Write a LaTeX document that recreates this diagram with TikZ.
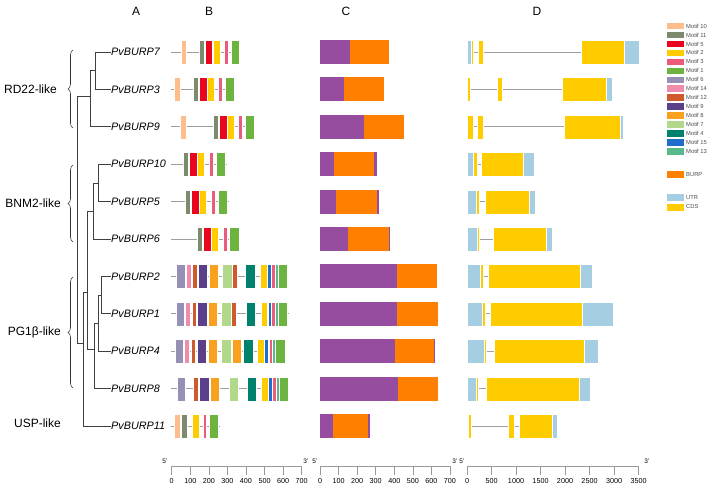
\documentclass[tikz,border=0pt]{standalone}
\usepackage{fontspec}
\setmainfont{Liberation Sans}
\usetikzlibrary{decorations.pathreplacing}

\definecolor{m10}{HTML}{FDBE8C}
\definecolor{m11}{HTML}{7E8A6C}
\definecolor{m5}{HTML}{E8071E}
\definecolor{m2}{HTML}{FFCC00}
\definecolor{m3}{HTML}{EC5B7C}
\definecolor{m1}{HTML}{6CB33F}
\definecolor{m6}{HTML}{968FB6}
\definecolor{m14}{HTML}{F08CAB}
\definecolor{m12}{HTML}{CF5A2E}
\definecolor{m9}{HTML}{5C3F8A}
\definecolor{m8}{HTML}{F9A11E}
\definecolor{m7}{HTML}{B2D98B}
\definecolor{m4}{HTML}{00816D}
\definecolor{m15}{HTML}{1F6ECB}
\definecolor{m13}{HTML}{58BA8B}
\definecolor{burp}{HTML}{FF7F00}
\definecolor{sigp}{HTML}{974D9F}
\definecolor{utr}{HTML}{A6CEE3}
\definecolor{cds}{HTML}{FFCC00}

\begin{document}
\begin{tikzpicture}[
    x=1pt, y=-1pt,
    leaf/.style={font=\fontsize{10.8}{12}\selectfont\itshape, anchor=west, inner sep=0pt},
    clade/.style={font=\fontsize{12}{14}\selectfont, anchor=east, inner sep=0pt},
    panel/.style={font=\fontsize{12}{14}\selectfont, inner sep=0pt},
    branch/.style={line width=0.9pt, draw=black!75},
    brace/.style={decorate, decoration={brace, amplitude=5pt}, line width=0.6pt, draw=black!80},
    intron/.style={draw=gray!75, line width=0.8pt},
    box/.style={draw=white, line width=0.2pt},
    axis/.style={draw=gray!80, line width=0.6pt},
    tick/.style={font=\fontsize{7.2}{8}\selectfont, inner sep=0pt},
    prime/.style={font=\fontsize{6.5}{7}\selectfont, inner sep=0pt},
    legtext/.style={font=\fontsize{5.8}{6}\selectfont, anchor=west, inner sep=0pt, text=black!70}
  ]
  \useasboundingbox (0,0) rectangle (709,484);

  \node[panel] (hA) at (136,11) {A};
  \node[panel] (hB) at (209,11) {B};
  \node[panel] (hC) at (346,11) {C};
  \node[panel] (hD) at (537,11) {D};

  % tree
  \node[leaf] (p7) at (111,52) {PvBURP7};
  \node[leaf] (p3) at (111,89.4) {PvBURP3};
  \node[leaf] (p9) at (111,126.8) {PvBURP9};
  \node[leaf] (p10) at (111,164.2) {PvBURP10};
  \node[leaf] (p5) at (111,201.6) {PvBURP5};
  \node[leaf] (p6) at (111,239) {PvBURP6};
  \node[leaf] (p2) at (111,276.4) {PvBURP2};
  \node[leaf] (p1) at (111,313.8) {PvBURP1};
  \node[leaf] (p4) at (111,351.2) {PvBURP4};
  \node[leaf] (p8) at (111,388.6) {PvBURP8};
  \node[leaf] (p11) at (111,426) {PvBURP11};

  \coordinate (a73) at (95.7,70.7);
  \coordinate (a739) at (90.3,96);
  \coordinate (a105) at (98.3,183);
  \coordinate (a1056) at (93.3,211);
  \coordinate (a21) at (101.7,295);
  \coordinate (a214) at (98.3,323);
  \coordinate (a2148) at (94.3,349);
  \coordinate (abp) at (87.3,292);
  \coordinate (a11) at (83.3,343);
  \coordinate (aroot) at (77.7,220);

  \draw[branch] (a73) |- (p7.west);
  \draw[branch] (a73) |- (p3.west);
  \draw[branch] (a739) |- (a73);
  \draw[branch] (a739) |- (p9.west);
  \draw[branch] (a105) |- (p10.west);
  \draw[branch] (a105) |- (p5.west);
  \draw[branch] (a1056) |- (a105);
  \draw[branch] (a1056) |- (p6.west);
  \draw[branch] (a21) |- (p2.west);
  \draw[branch] (a21) |- (p1.west);
  \draw[branch] (a214) |- (a21);
  \draw[branch] (a214) |- (p4.west);
  \draw[branch] (a2148) |- (a214);
  \draw[branch] (a2148) |- (p8.west);
  \draw[branch] (abp) |- (a1056);
  \draw[branch] (abp) |- (a2148);
  \draw[branch] (a11) |- (abp);
  \draw[branch] (a11) |- (p11.west);
  \draw[branch] (aroot) |- (a739);
  \draw[branch] (aroot) |- (a11);

  % clades
  \coordinate (rdt) at (73,50);   \coordinate (rdb) at (73,128);
  \coordinate (bnt) at (73,165);  \coordinate (bnb) at (73,242);
  \coordinate (pgt) at (73,277);  \coordinate (pgb) at (73,388);
  \draw[brace] (rdb) -- (rdt);
  \draw[brace] (bnb) -- (bnt);
  \draw[brace] (pgb) -- (pgt);
  \node[clade] (rd) at (57,89.5) {RD22-like};
  \node[clade] (bn) at (61,203.5) {BNM2-like};
  \node[clade] (pg) at (61,332.5) {PG1β-like};
  \node[clade] (usp) at (61,423) {USP-like};

  % B: motifs
  \foreach \y/\e in {52/240, 89.4/235, 126.8/254.3, 164.2/226.7, 201.6/229, 239/240,
      276.4/287.7, 313.8/289.3, 351.2/286, 388.6/289.3, 426/220}
    \draw[intron] (170.7,\y) -- (\e,\y);
  \foreach \y/\mlist in {
      52/{m10/180.7/186, m11/198.7/203.7, m5/204.7/212.3, m2/212.7/220, m3/224/227.7, m1/230.7/239.3},
      89.4/{m10/174/179.7, m11/193.3/198.3, m5/199.3/206.7, m2/207.3/214, m3/218.3/222, m1/225/234},
      126.8/{m10/180/186, m11/213.3/218.3, m5/219.3/226.7, m2/227.3/234, m3/238.3/242.3, m1/245/254},
      164.2/{m11/182.7/188, m5/189.3/196.7, m2/197.3/204, m3/209/212.7, m1/215.7/224.7},
      201.6/{m11/185/190.3, m5/191.3/198.7, m2/199.3/206, m3/211/215, m1/218/227},
      239/{m11/196.7/202, m5/203/210.7, m2/211.3/218, m3/222.7/226.7, m1/229.3/238.7},
      276.4/{m6/176/184.7, m14/185.7/190.7, m12/192/196.7, m9/198/207.3, m8/209/218.3, m7/222/231.7,
        m12/232/236.7, m4/245.3/254.7, m2/260/266.7, m15/267.3/271, m3/271.3/275, m13/275.3/277.7, m1/277.7/287},
      313.8/{m6/175.7/184, m14/185/190.3, m12/191.7/196, m9/197.3/206.7, m8/208/217.3, m7/221.3/230.7,
        m12/231/235.7, m4/246/255, m2/260.7/267.3, m15/267.7/271, m3/271.3/275, m13/275.3/277.7, m1/278.3/287.3},
      351.2/{m6/175/183.3, m14/184/189.3, m12/190.7/195.3, m9/196.7/206, m8/207.7/217, m7/221.3/231,
        m8/231.7/240.7, m4/243.3/252.7, m2/257.3/264, m15/264.3/268.3, m3/268.7/272, m13/272.3/275, m1/275/284.7},
      388.6/{m6/176.7/185, m12/193.3/198, m9/199.3/208.7, m8/210/219, m7/229/238.3, m4/246.7/255.7,
        m2/261/267.7, m15/268/271.7, m3/272/276, m13/276.3/278.7, m1/278.7/288},
      426/{m10/174.3/180, m11/181/186.7, m2/192.3/199, m3/202.7/206.3, m1/209/218.3}}
    \foreach \c/\a/\b in \mlist
      \fill[box,fill=\c] (\a,\y-12) rectangle (\b,\y+12);

  % C: domains
  \foreach \y/\p/\o/\e in {52/350/389.3/389.3, 89.4/344.3/384/384, 126.8/364.3/404/404,
      164.2/334/374.3/376.7, 201.6/336/377.3/378.7, 239/348/388.7/389.7, 276.4/397/437/437,
      313.8/397/437.7/437.7, 351.2/395.3/434.3/435, 388.6/397.7/438/438, 426/332.7/368/369.7}
  {
    \fill[sigp] (320,\y-12) rectangle (\e,\y+12);
    \fill[burp] (\p,\y-12) rectangle (\o,\y+12);
  }

  % D: gene structure
  \foreach \y/\e in {52/639, 89.4/611.7, 126.8/623, 164.2/534, 201.6/535, 239/552.3,
      276.4/592.3, 313.8/612.7, 351.2/597.7, 388.6/590, 426/556.7}
    \draw[intron] (466.7,\y) -- (\e,\y);
  \foreach \y/\xlist in {
      52/{utr/466.7/471.3, cds/471.3/473.3, cds/477.7/483.3, cds/580.7/624.3, utr/624.3/639},
      89.4/{cds/466.7/469.7, cds/497.3/502.3, cds/561.7/605.7, utr/605.7/611.7},
      126.8/{cds/466.7/472.7, cds/477.3/482.7, cds/563.7/619.7, utr/619.7/623},
      164.2/{utr/466.7/473.3, cds/473.3/477, cds/481/523.3, utr/523.3/534},
      201.6/{utr/466.7/475.7, cds/475.7/478.7, cds/484.7/529, utr/529/535},
      239/{utr/466.7/476.7, cds/476.7/479.3, cds/493/546, utr/546/552.3},
      276.4/{utr/466.7/480, cds/480/483, cds/488/579.7, utr/579.7/592.3},
      313.8/{utr/466.7/482, cds/482/485, cds/490/582.3, utr/582.3/612.7},
      351.2/{utr/466.7/484, cds/484/486, cds/493.7/583.7, utr/583.7/597.7},
      388.6/{utr/466.7/476, cds/476/478.3, cds/486/578.7, utr/578.7/590},
      426/{utr/466.7/468.3, cds/468.3/470.7, cds/508.3/513.7, cds/518.7/551.7, utr/551.7/556.7}}
    \foreach \c/\a/\b in \xlist
      \fill[box,fill=\c] (\a,\y-12) rectangle (\b,\y+12);

  % scales
  \draw[axis] (171.7,466) -- (301.7,466);
  \draw[axis] (320,466) -- (450,466);
  \draw[axis] (467,466) -- (638.5,466);
  \foreach \i in {0,...,7} {
    \pgfmathtruncatemacro\lab{100*\i}
    \pgfmathtruncatemacro\labd{500*\i}
    \draw[axis] (171.7+18.57*\i,466) -- ++(0,9);
    \draw[axis] (320+18.57*\i,466) -- ++(0,9);
    \draw[axis] (467+24.5*\i,466) -- ++(0,9);
    \node[tick] (tb\i) at (171.7+18.57*\i,481) {\lab};
    \node[tick] (tc\i) at (320+18.57*\i,481) {\lab};
    \node[tick] (td\i) at (467+24.5*\i,481) {\labd};
  }
  \node[prime] (b5) at (165,461) {5'};
  \node[prime] (b3) at (306,461) {3'};
  \node[prime] (c5) at (315,461) {5'};
  \node[prime] (c3) at (455,461) {3'};
  \node[prime] (d5) at (462,461) {5'};
  \node[prime] (d3) at (647,461) {3'};

  % legend
  \foreach \c/\t [count=\k] in {m10/Motif 10, m11/Motif 11, m5/Motif 5, m2/Motif 2, m3/Motif 3,
      m1/Motif 1, m6/Motif 6, m14/Motif 14, m12/Motif 12, m9/Motif 9, m8/Motif 8, m7/Motif 7,
      m4/Motif 4, m15/Motif 15, m13/Motif 13}
  {
    \fill[\c] (666.7,{22.7+8.97*(\k-1)}) rectangle ++(17.3,6.7);
    \node[legtext] (lg\k) at (686,{26+8.97*(\k-1)}) {\t};
  }
  \fill[burp] (666.7,171) rectangle ++(17.3,7);
  \node[legtext] (lgburp) at (686,174.5) {BURP};
  \fill[utr] (666.7,194) rectangle ++(17.3,7);
  \node[legtext] (lgutr) at (686,197.5) {UTR};
  \fill[cds] (666.7,203.5) rectangle ++(17.3,7);
  \node[legtext] (lgcds) at (686,207) {CDS};
\end{tikzpicture}
\end{document}
